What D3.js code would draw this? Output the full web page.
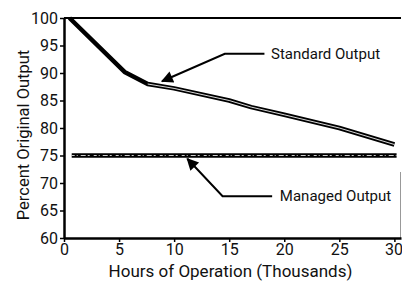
<!DOCTYPE html>
<html>
<head>
<meta charset="utf-8">
<script src="https://cdn.jsdelivr.net/npm/d3@7"></script>
<style>
  body { margin: 0; background: #fff; }
  svg { display: block; }
  text { font-family: Roboto, "DejaVu Sans Condensed", sans-serif; fill: #111; }
</style>
</head>
<body>
<div id="chart"></div>
<script>
// hours (thousands) vs percent of original output
const standardHours = [0.5, 5.5, 7.6, 10, 15, 17, 20, 25, 30];
const standardValues = [100, 90.2, 88, 87.2, 85, 83.8, 82.4, 80, 77];
const managedHours = [0.7, 30.2];
const managedValues = [75, 75];
const xTicks = [0, 5, 10, 15, 20, 25, 30];
const yTicks = [60, 65, 70, 75, 80, 85, 90, 95, 100];

const width = 402, height = 286;
const margin = {top: 18, right: 1, bottom: 48, left: 64};

const svg = d3.select('#chart').append('svg')
    .attr('width', width)
    .attr('height', height);

const x = d3.scaleLinear().domain([0, 30.6]).range([margin.left, width - margin.right]);
const y = d3.scaleLinear().domain([60, 100]).range([height - margin.bottom, margin.top]);

// frame: faint right edge, heavy top edge
svg.append('line')
    .attr('x1', x(30.6) - 0.5).attr('x2', x(30.6) - 0.5)
    .attr('y1', y(72)).attr('y2', y(60))
    .attr('stroke', '#999').attr('stroke-width', 1);
svg.append('line')
    .attr('x1', x(0)).attr('x2', x(30.6))
    .attr('y1', y(100)).attr('y2', y(100))
    .attr('stroke', '#000').attr('stroke-width', 2);

// axes
const xAxis = svg.append('g')
    .attr('transform', `translate(0,${y(60)})`)
    .call(d3.axisBottom(x).tickValues(xTicks).tickSize(4).tickPadding(2).tickSizeOuter(0));
const yAxis = svg.append('g')
    .attr('transform', `translate(${x(0)},0)`)
    .call(d3.axisLeft(y).tickValues(yTicks).tickSize(4).tickPadding(2).tickSizeOuter(0));

[xAxis, yAxis].forEach(g => {
    g.select('.domain').attr('stroke', '#000').attr('stroke-width', 2.5);
    g.selectAll('.tick line').attr('stroke', '#000').attr('stroke-width', 1.5);
    g.selectAll('.tick text').style('font-size', '16px').attr('fill', '#111');
});
// last x label sits tight against the right edge
xAxis.selectAll('.tick text').filter(d => d === 30)
    .attr('text-anchor', 'end').attr('x', 8);

// axis titles
svg.append('text')
    .attr('x', (x(0) + x(30.6)) / 2 - 2)
    .attr('y', height - 9)
    .attr('text-anchor', 'middle')
    .style('font-size', '17px')
    .text('Hours of Operation (Thousands)');
svg.append('text')
    .attr('transform', `translate(29,${(y(60) + y(100)) / 2 + 7}) rotate(-90)`)
    .attr('text-anchor', 'middle')
    .style('font-size', '16.5px')
    .text('Percent Original Output');

// lines
const line = d3.line().x(d => x(d[0])).y(d => y(d[1]));
const standard = d3.zip(standardHours, standardValues);
const managed = d3.zip(managedHours, managedValues);

svg.append('path')
    .attr('d', line(standard))
    .attr('fill', 'none').attr('stroke', '#000')
    .attr('stroke-width', 4.5).attr('stroke-linejoin', 'round');
svg.append('path')
    .attr('d', line(standard.slice(2)))
    .attr('fill', 'none').attr('stroke', '#fff')
    .attr('stroke-width', 1).attr('opacity', 0.85);

svg.append('path')
    .attr('d', line(managed))
    .attr('fill', 'none').attr('stroke', '#000')
    .attr('stroke-width', 4.5);
svg.append('path')
    .attr('d', line(managed))
    .attr('fill', 'none').attr('stroke', '#fff')
    .attr('stroke-width', 1.2)
    .attr('stroke-dasharray', '3,2,1,3,5,2,2,4')
    .attr('opacity', 0.8);

// callouts with arrowheads
svg.append('defs').append('marker')
    .attr('id', 'arrowhead')
    .attr('viewBox', '0 -5 10 10')
    .attr('refX', 9)
    .attr('refY', 0)
    .attr('orient', 'auto')
    .attr('markerUnits', 'userSpaceOnUse')
    .attr('markerWidth', 14)
    .attr('markerHeight', 12)
    .append('path')
    .attr('d', 'M0,-5 L10,0 L0,5 Z')
    .attr('fill', '#000');

const callouts = [
    {label: 'Standard Output', tip: [8.9, 88.5], elbow: [14.6, 93.5], end: [18.2, 93.5], text: [18.8, 93.5]},
    {label: 'Managed Output', tip: [11.2, 74.4], elbow: [14.4, 67.6], end: [18.9, 67.6], text: [19.6, 67.6]}
];

callouts.forEach(c => {
    svg.append('path')
        .attr('d', line([c.end, c.elbow, c.tip]))
        .attr('fill', 'none').attr('stroke', '#000')
        .attr('stroke-width', 2)
        .attr('marker-end', 'url(#arrowhead)');
    svg.append('text')
        .attr('x', x(c.text[0]))
        .attr('y', y(c.text[1]))
        .attr('dy', '0.35em')
        .style('font-size', '15px')
        .text(c.label);
});
</script>
</body>
</html>
